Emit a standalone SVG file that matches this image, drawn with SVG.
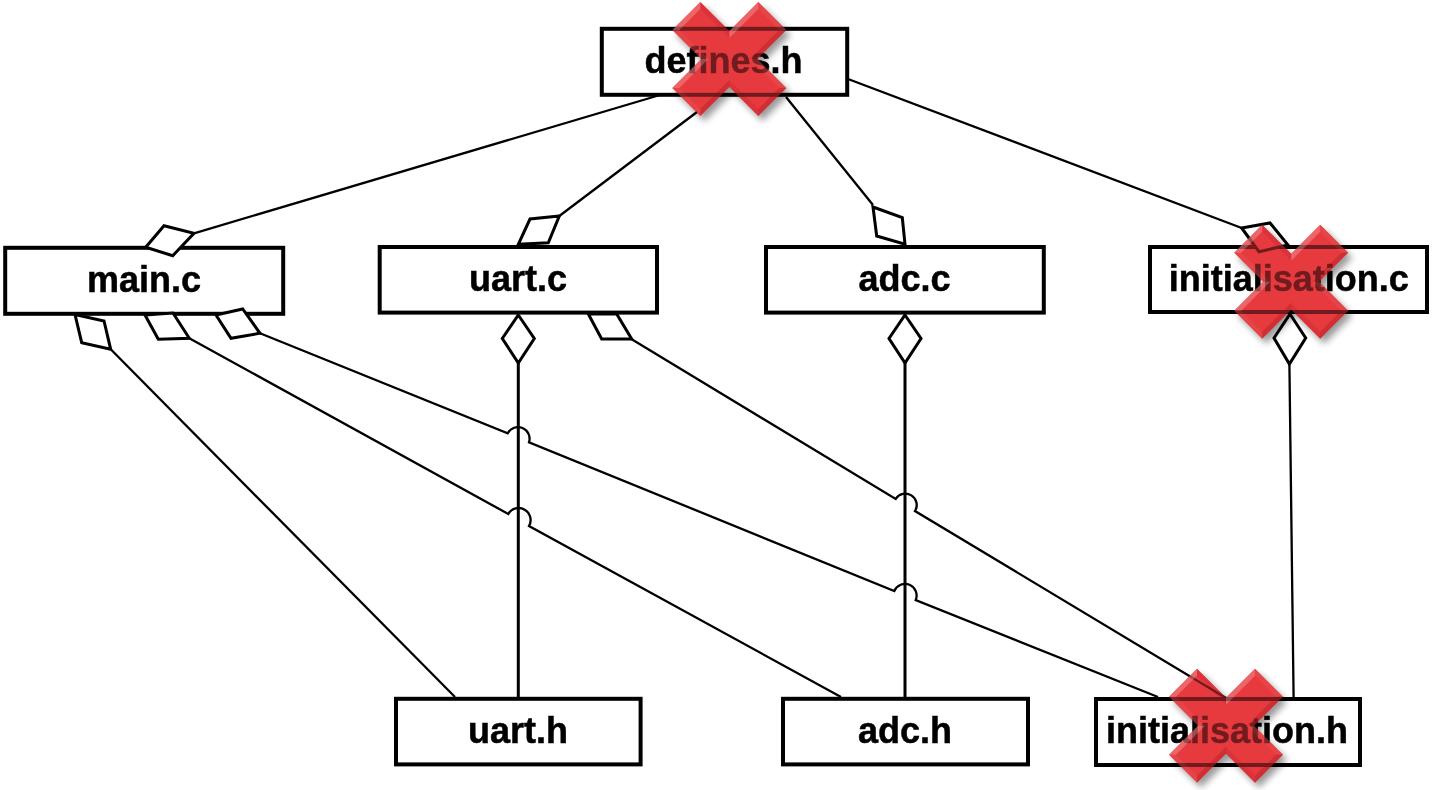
<svg xmlns="http://www.w3.org/2000/svg" xmlns:xlink="http://www.w3.org/1999/xlink" width="1432" height="790" viewBox="0 0 1432 790">
<style>
.box{fill:#fff;stroke:#000;stroke-width:4}
.lbl{font-family:"Liberation Sans",Arial,sans-serif;font-weight:bold;font-size:36px;fill:#000;stroke:#000;stroke-width:.5;text-anchor:middle}
.ln{fill:none;stroke:#000;stroke-width:2.3}
.vl{fill:none;stroke:#000;stroke-width:3}
.dia{fill:#fff;stroke:#000;stroke-width:3;stroke-linejoin:miter}
.l{fill:#fff;fill-opacity:.22}
.d{fill:#8a0a10;fill-opacity:.25}
.n{fill:#fff;fill-opacity:.05}
.mul{mix-blend-mode:multiply}
</style>
<defs>
<filter id="blur" x="-30%" y="-30%" width="160%" height="160%">
<feGaussianBlur in="SourceAlpha" stdDeviation="3.5" result="b"/>
<feOffset in="b" dx="4" dy="5" result="o"/>
<feComposite in="o" in2="SourceAlpha" operator="out"/>
</filter>
<polygon id="crossShape" points="0,-28 29,-57 57,-29 28,0 57,29 29,57 0,28 -29,57 -57,29 -28,0 -57,-29 -29,-57"/>
<use id="crossShadow" href="#crossShape" xlink:href="#crossShape" fill="#000" opacity=".4" filter="url(#blur)"/>
<use id="crossBase" href="#crossShape" xlink:href="#crossShape" fill="#e83e43"/>
<g id="crossTop">
<use href="#crossShape" xlink:href="#crossShape" fill="#e4363b" fill-opacity=".5"/>
<polygon class="l" points="0,-28 29,-57 29,-50 0,-21"/>
<polygon class="n" points="29,-57 57,-29 50,-29 29,-50"/>
<polygon class="d" points="57,-29 28,0 21,0 50,-29"/>
<polygon class="n" points="28,0 57,29 50,29 21,0"/>
<polygon class="d" points="57,29 29,57 29,50 50,29"/>
<polygon class="d" points="29,57 0,28 0,21 29,50" style="fill-opacity:.12"/>
<polygon class="d" points="0,28 -29,57 -29,50 0,21"/>
<polygon class="n" points="-29,57 -57,29 -50,29 -29,50"/>
<polygon class="l" points="-57,29 -28,0 -21,0 -50,29"/>
<polygon class="n" points="-28,0 -57,-29 -50,-29 -21,0"/>
<polygon class="l" points="-57,-29 -29,-57 -29,-50 -50,-29"/>
<polygon class="d" points="-29,-57 0,-28 0,-21 -29,-50" style="fill-opacity:.12"/>
</g>
</defs>
<rect width="1432" height="790" fill="#fff"/>
<g id="defines-h"><rect class="box" x="601.8" y="28.8" width="245.4" height="66"/><text class="lbl" x="723.5" y="72.5">defines.h</text></g>
<g id="main-c"><rect class="box" x="5.2" y="247.8" width="278" height="66"/><text class="lbl" x="144" y="292">main.c</text></g>
<g id="uart-c"><rect class="box" x="379.7" y="247" width="277.3" height="65.6"/><text class="lbl" x="518" y="291">uart.c</text></g>
<g id="adc-c"><rect class="box" x="766" y="247" width="277.8" height="65.6"/><text class="lbl" x="904.5" y="291">adc.c</text></g>
<g id="initialisation-c"><rect class="box" x="1150" y="247" width="277" height="65"/><text class="lbl" x="1288.7" y="290.5">initialisation.c</text></g>
<g id="uart-h"><rect class="box" x="396" y="698.8" width="244.6" height="65.6"/><text class="lbl" x="518" y="742.5">uart.h</text></g>
<g id="adc-h"><rect class="box" x="783" y="698.8" width="245" height="65.6"/><text class="lbl" x="905" y="742.5">adc.h</text></g>
<g id="initialisation-h"><rect class="box" x="1096" y="699" width="264" height="66"/><text class="lbl" x="1227" y="743">initialisation.h</text></g>
<g id="connectors">
<path class="ln" d="M660,95 L194,233.3"/>
<path class="ln" d="M697,112 L559.3,216"/>
<path class="ln" d="M786,97 L873,205"/>
<path class="ln" d="M848,79 L1241.7,228"/>
<path class="ln" d="M110.7,349.3 L455,697"/>
<path class="ln" d="M189.3,338.3 L508.3,514 A11.8,11.8 0 0 1 529,526 L841,697"/>
<path class="ln" d="M260,333.3 L507.7,433.3 A11.6,11.6 0 0 1 529,442.3 L894.3,591 A11.6,11.6 0 0 1 915.7,600 L1158,697"/>
<path class="ln" d="M631.7,339.3 L895.7,499 A11.3,11.3 0 0 1 915,511 L1226,698"/>
<path class="vl" d="M518.3,363 V697"/>
<path class="vl" d="M905,363 V697"/>
<path class="ln" d="M1289.4,364 L1293.6,697"/>
<polygon class="dia" points="145.7,247.3 164,225.7 194,233.3 172.7,255.7"/>
<polygon class="dia" points="518.3,244.3 530,219 559.3,216 548.3,242.7"/>
<polygon class="dia" points="873,207 902.3,217.7 905,244.3 876.7,236"/>
<polygon class="dia" points="1241.7,228 1270,223 1288,245 1259,251.7"/>
<polygon class="dia" points="75,314.5 104,321 110.7,349.3 81.7,342.7"/>
<polygon class="dia" points="145,315 173,313 189.3,338.3 158.3,339.3"/>
<polygon class="dia" points="216,315 242.7,309 260,333.3 231,338.3"/>
<polygon class="dia" points="588.3,314 616.7,314 631.7,339 601.7,339"/>
<polygon class="dia" points="518.3,315 534.3,338.5 518.3,363 502.3,338.5"/>
<polygon class="dia" points="905,315 921,338.5 905,363 889,338.5"/>
<polygon class="dia" points="1290,314 1305.7,338 1289.4,364 1274,338"/>
</g>
<g id="marks">
<use href="#crossShadow" xlink:href="#crossShadow" x="729.3" y="59"/>
<use class="mul" href="#crossBase" xlink:href="#crossBase" x="729.3" y="59"/>
<use href="#crossTop" xlink:href="#crossTop" x="729.3" y="59"/>
<use href="#crossShadow" xlink:href="#crossShadow" x="1291.2" y="281.7"/>
<use class="mul" href="#crossBase" xlink:href="#crossBase" x="1291.2" y="281.7"/>
<use href="#crossTop" xlink:href="#crossTop" x="1291.2" y="281.7"/>
<use href="#crossShadow" xlink:href="#crossShadow" x="1226" y="725.7"/>
<use class="mul" href="#crossBase" xlink:href="#crossBase" x="1226" y="725.7"/>
<use href="#crossTop" xlink:href="#crossTop" x="1226" y="725.7"/>
</g>
</svg>
